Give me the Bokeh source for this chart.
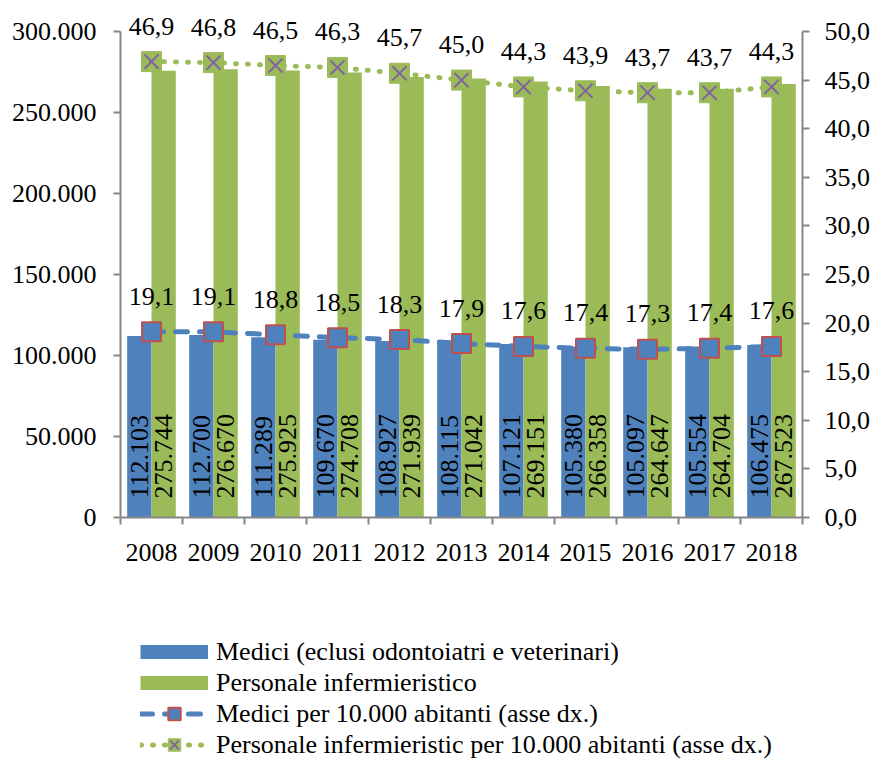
import numpy as np
from bokeh.plotting import figure
from bokeh.layouts import column
from bokeh.models import (Range1d, LinearAxis, FixedTicker, ColumnDataSource,
                          LabelSet, Legend, LegendItem)
from bokeh.transform import dodge
from bokeh.core.properties import value
from bokeh.embed import file_html
from bokeh.resources import INLINE

# ---- data ----
years = ["2008", "2009", "2010", "2011", "2012", "2013", "2014", "2015", "2016", "2017", "2018"]
medici = [112103, 112700, 111289, 109670, 108927, 108115, 107121, 105380, 105097, 105554, 106475]
infermieri = [275744, 276670, 275925, 274708, 271939, 271042, 269151, 266358, 264647, 264704, 267523]
medici_10k = [19.1, 19.1, 18.8, 18.5, 18.3, 17.9, 17.6, 17.4, 17.3, 17.4, 17.6]
inf_10k = [46.9, 46.8, 46.5, 46.3, 45.7, 45.0, 44.3, 43.9, 43.7, 43.7, 44.3]
left_ticks = [0, 50000, 100000, 150000, 200000, 250000, 300000]
left_tick_labels = ["0", "50.000", "100.000", "150.000", "200.000", "250.000", "300.000"]
right_ticks = [0, 5, 10, 15, 20, 25, 30, 35, 40, 45, 50]
right_tick_labels = ["0,0", "5,0", "10,0", "15,0", "20,0", "25,0", "30,0", "35,0", "40,0", "45,0", "50,0"]
legend_labels = ["Medici (eclusi odontoiatri e veterinari)",
                 "Personale infermieristico",
                 "Medici per 10.000 abitanti (asse dx.)",
                 "Personale infermieristic per 10.000 abitanti (asse dx.)"]

FONT = "Liberation Serif"
FS = "26px"
BLUE = "#4F81BD"
GREEN = "#9BBB59"
RED = "#C0504D"
PURPLE = "#8064A2"
AXIS = "#868686"

n = len(years)
xc = [i + 0.5 for i in range(n)]


def thousands(v):
    return f"{v:,}".replace(",", ".")


def dec(v):
    return f"{v:.1f}".replace(".", ",")


src = ColumnDataSource(dict(
    x=xc, medici=medici, inf=infermieri, m10=medici_10k, i10=inf_10k,
    medici_lbl=[thousands(v) for v in medici],
    inf_lbl=[thousands(v) for v in infermieri],
    m10_lbl=[dec(v) for v in medici_10k],
    i10_lbl=[dec(v) for v in inf_10k],
))

# frame extends above the axes' top so value labels are not clipped
TOP_PAD = 4
AX_BOTTOM = 517
FRAME_H = AX_BOTTOM - TOP_PAD
AX_H = 486
ymax_l = left_ticks[-1] * FRAME_H / AX_H
ymax_r = right_ticks[-1] * FRAME_H / AX_H

MAIN_H = 600
p = figure(width=875, height=MAIN_H, x_range=Range1d(0, n), y_range=Range1d(0, ymax_l),
           output_backend="svg", toolbar_location=None,
           min_border_left=120, min_border_right=73, min_border_top=TOP_PAD,
           min_border_bottom=MAIN_H - AX_BOTTOM)
p.outline_line_color = None
p.grid.visible = False
p.background_fill_color = "white"
p.border_fill_color = "white"
p.extra_y_ranges = {"right": Range1d(0, ymax_r)}

BW = 0.392
bars_m = p.vbar(x=dodge("x", -BW / 2, range=p.x_range), top="medici", width=BW, bottom=0,
                source=src, fill_color=BLUE, line_color=None)
bars_i = p.vbar(x=dodge("x", BW / 2, range=p.x_range), top="inf", width=BW, bottom=0,
                source=src, fill_color=GREEN, line_color=None)

# lines on right axis
lm = p.line(x="x", y="m10", source=src, y_range_name="right", line_color=BLUE,
            line_width=5, line_dash="12 12", line_cap="round")
li = p.line(x="x", y="i10", source=src, y_range_name="right", line_color=GREEN,
            line_width=5, line_dash="1 11", line_cap="round")
sm = p.scatter(x="x", y="m10", source=src, y_range_name="right", marker="square", size=19,
               fill_color=BLUE, line_color=RED, line_width=2)
si = p.scatter(x="x", y="i10", source=src, y_range_name="right", marker="square", size=20,
               fill_color=GREEN, line_color=GREEN, line_width=1)
sx = p.scatter(x="x", y="i10", source=src, y_range_name="right", marker="x", size=20,
               line_color=PURPLE, line_width=2)

# bar labels (rotated)
for lbl, off in (("medici_lbl", -BW / 2), ("inf_lbl", BW / 2)):
    ls = LabelSet(x=dodge("x", off, range=p.x_range), y=0, text=lbl, source=src,
                  angle=np.pi / 2, text_align="left", text_baseline="middle",
                  y_offset=19, text_font=value(FONT), text_font_size=FS, text_color="black")
    p.add_layout(ls)

# line value labels
for fld, lbl in (("m10", "m10_lbl"), ("i10", "i10_lbl")):
    ls = LabelSet(x="x", y=fld, text=lbl, source=src, y_range_name="right",
                  text_align="center", text_baseline="alphabetic", y_offset=27,
                  text_font=value(FONT), text_font_size=FS, text_color="black")
    p.add_layout(ls)

# axes styling
xa = p.xaxis[0]
xa.ticker = FixedTicker(ticks=xc, minor_ticks=list(range(n + 1)))
xa.major_label_overrides = {x: y for x, y in zip(xc, years)}
xa.major_tick_out = 0
xa.major_tick_in = 0
xa.minor_tick_out = 7
xa.minor_tick_in = 0
xa.minor_tick_line_color = AXIS
xa.axis_line_color = AXIS
xa.axis_line_width = 2
xa.minor_tick_line_width = 2
xa.major_label_standoff = 19
xa.major_label_text_font = FONT
xa.major_label_text_font_size = FS
xa.major_label_text_color = "black"

ya = p.yaxis[0]
ya.ticker = FixedTicker(ticks=left_ticks, minor_ticks=[])
ya.major_label_overrides = {t: l for t, l in zip(left_ticks, left_tick_labels)}
ya.bounds = (left_ticks[0], left_ticks[-1])
ra = LinearAxis(y_range_name="right", ticker=FixedTicker(ticks=right_ticks, minor_ticks=[]))
ra.major_label_overrides = {t: l for t, l in zip(right_ticks, right_tick_labels)}
ra.bounds = (right_ticks[0], right_ticks[-1])
p.add_layout(ra, "right")
for ax, so in ((ya, 17), (ra, 15)):
    ax.major_tick_out = 7
    ax.major_tick_in = 0
    ax.minor_tick_out = 0
    ax.minor_tick_in = 0
    ax.major_tick_line_color = AXIS
    ax.major_tick_line_width = 2
    ax.axis_line_color = AXIS
    ax.axis_line_width = 2
    ax.major_label_standoff = so
    ax.major_label_text_font = FONT
    ax.major_label_text_font_size = FS
    ax.major_label_text_color = "black"

# ---- legend panel (separate figure below the chart; frames are aligned) ----
LEG_H = 760 - MAIN_H
q = figure(width=875, height=LEG_H, x_range=Range1d(0, 1), y_range=Range1d(0, 1),
           output_backend="svg", toolbar_location=None,
           x_axis_location=None, y_axis_location=None,
           min_border_left=120, min_border_right=0, min_border_top=0, min_border_bottom=0)
q.outline_line_color = None
q.grid.visible = False
q.background_fill_color = "white"
q.border_fill_color = "white"

# hidden proxy renderers (same data) used only to draw legend swatches
kb = q.line(x="x", y="medici", source=src, line_color=BLUE, line_width=14, line_cap="butt")
kg = q.line(x="x", y="inf", source=src, line_color=GREEN, line_width=14, line_cap="butt")
klm = q.line(x="x", y="m10", source=src, line_color=BLUE, line_width=5, line_dash="12 12", line_cap="round")
ksm = q.scatter(x="x", y="m10", source=src, marker="square", size=19, fill_color=BLUE,
                line_color=RED, line_width=2)
kli = q.line(x="x", y="i10", source=src, line_color=GREEN, line_width=5, line_dash="1 11", line_cap="round")
ksi = q.scatter(x="x", y="i10", source=src, marker="square", size=19, fill_color=GREEN,
                line_color=GREEN, line_width=1)
ksx = q.scatter(x="x", y="i10", source=src, marker="x", size=19, line_color=PURPLE, line_width=2)
for r in (kb, kg, klm, ksm, kli, ksi, ksx):
    r.visible = False

items = [
    LegendItem(label=legend_labels[0], renderers=[kb]),
    LegendItem(label=legend_labels[1], renderers=[kg]),
    LegendItem(label=legend_labels[2], renderers=[klm, ksm]),
    LegendItem(label=legend_labels[3], renderers=[kli, ksi, ksx]),
]
leg = Legend(items=items, location=(20, 0), orientation="vertical",
             glyph_width=68, glyph_height=31, label_height=31, spacing=0, padding=0, margin=0,
             label_standoff=8, label_text_font=FONT, label_text_font_size=FS,
             label_text_color="black", border_line_color=None,
             background_fill_alpha=0, inactive_fill_alpha=0)
q.add_layout(leg, "center")

layout = column(p, q, spacing=0)
open("out.html", "w").write(file_html(layout, INLINE))
